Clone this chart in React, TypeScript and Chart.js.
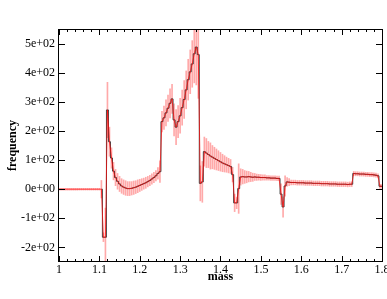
import React, { useEffect, useRef } from 'react';
import { Chart, registerables } from 'chart.js';

Chart.register(...registerables);

const massValues = [
  1.000, 1.005, 1.010, 1.015, 1.020, 1.025, 1.030, 1.035, 1.040, 1.045,
  1.050, 1.055, 1.060, 1.065, 1.070, 1.075, 1.080, 1.085, 1.090, 1.095,
  1.100, 1.105, 1.110, 1.115, 1.120, 1.125, 1.130, 1.135, 1.140, 1.145,
  1.150, 1.155, 1.160, 1.165, 1.170, 1.175, 1.180, 1.185, 1.190, 1.195,
  1.200, 1.205, 1.210, 1.215, 1.220, 1.225, 1.230, 1.235, 1.240, 1.245,
  1.250, 1.255, 1.260, 1.265, 1.270, 1.275, 1.280, 1.285, 1.290, 1.295,
  1.300, 1.305, 1.310, 1.315, 1.320, 1.325, 1.330, 1.335, 1.340, 1.345,
  1.350, 1.355, 1.360, 1.365, 1.370, 1.375, 1.380, 1.385, 1.390, 1.395,
  1.400, 1.405, 1.410, 1.415, 1.420, 1.425, 1.430, 1.435, 1.440, 1.445,
  1.450, 1.455, 1.460, 1.465, 1.470, 1.475, 1.480, 1.485, 1.490, 1.495,
  1.500, 1.505, 1.510, 1.515, 1.520, 1.525, 1.530, 1.535, 1.540, 1.545,
  1.550, 1.555, 1.560, 1.565, 1.570, 1.575, 1.580, 1.585, 1.590, 1.595,
  1.600, 1.605, 1.610, 1.615, 1.620, 1.625, 1.630, 1.635, 1.640, 1.645,
  1.650, 1.655, 1.660, 1.665, 1.670, 1.675, 1.680, 1.685, 1.690, 1.695,
  1.700, 1.705, 1.710, 1.715, 1.720, 1.725, 1.730, 1.735, 1.740, 1.745,
  1.750, 1.755, 1.760, 1.765, 1.770, 1.775, 1.780, 1.785, 1.790, 1.795,
  1.800,
];

const frequencyValues = [
  0, 0, 0, 0, 0, 0, 0, 0, 0, 0,
  0, 0, 0, 0, 0, 0, 0, 0, 0, 0,
  0, 0, -165, -165, 272, 163, 107, 62, 40, 27,
  18, 11, 7, 4, 2, 2, 3, 5, 7, 10,
  13, 16, 19, 22, 26, 30, 35, 40, 46, 54,
  60, 232, 245, 262, 278, 295, 310, 238, 213, 232,
  252, 280, 308, 341, 376, 403, 430, 465, 488, 462,
  20, 25, 129, 124, 119, 114, 110, 106, 102, 98,
  94, 90, 87, 84, 81, 78, 50, -47, -47, 2,
  42, 43, 42, 42, 43, 42, 41, 42, 41, 41,
  40, 40, 40, 39, 39, 38, 38, 38, 37, 37,
  -17, -61, 11, 25, 24, 23, 23, 23, 22, 22,
  22, 22, 21, 21, 21, 21, 20, 20, 20, 20,
  19, 19, 19, 19, 18, 18, 18, 18, 17, 17,
  17, 17, 17, 16, 17, 17, 54, 53, 53, 52,
  52, 52, 51, 51, 50, 50, 49, 48, 46, 10,
  10,
];

const errorValues = [
  3, 3, 3, 3, 3, 3, 3, 3, 3, 3,
  3, 3, 3, 3, 3, 3, 3, 3, 3, 3,
  3, 30, 15, 100, 95, 50, 35, 30, 28, 27,
  26, 25, 25, 25, 24, 24, 23, 23, 22, 22,
  21, 20, 19, 19, 18, 18, 18, 18, 18, 20,
  37, 35, 40, 45, 45, 50, 50, 55, 60, 55,
  60, 60, 65, 65, 70, 75, 80, 100, 130, 150,
  60, 70, 50, 50, 45, 45, 40, 38, 36, 34,
  32, 30, 28, 26, 25, 24, 25, 30, 20, 85,
  28, 25, 22, 20, 18, 16, 14, 12, 11, 10,
  10, 9, 9, 8, 8, 8, 8, 8, 8, 8,
  35, 35, 35, 15, 12, 8, 8, 8, 8, 8,
  8, 8, 8, 8, 8, 8, 8, 8, 8, 8,
  8, 8, 8, 8, 8, 8, 8, 8, 8, 8,
  8, 8, 8, 8, 8, 8, 7, 7, 7, 7,
  7, 7, 7, 7, 7, 7, 7, 7, 7, 7,
  7,
];

// the black histogram starts at this mass (no black trace on the flat part)
const histogramStartMass = 1.105;

const xMajorTicks = [1, 1.1, 1.2, 1.3, 1.4, 1.5, 1.6, 1.7, 1.8];
const yMajorTicks = [-200, -100, 0, 100, 200, 300, 400, 500];

const FONT = 'Liberation Serif, Times New Roman, serif';

function fmtExp(v: number): string {
  if (Math.abs(v) < 1e-9) return '0e+00';
  const e = Math.floor(Math.log10(Math.abs(v)) + 1e-9);
  const m = Math.round(v / Math.pow(10, e));
  return `${m}e${e < 0 ? '-' : '+'}${String(Math.abs(e)).padStart(2, '0')}`;
}

const framePlugin = {
  id: 'frameTicks',
  afterDatasetsDraw(chart: any) {
    const { ctx, chartArea: a, scales } = chart;
    const xs = scales.x;
    const ys = scales.y;
    ctx.save();
    ctx.strokeStyle = '#000';
    ctx.lineWidth = 1;
    ctx.strokeRect(a.left - 0.5, a.top + 0.5, a.right - a.left + 1, a.bottom - a.top - 1);
    ctx.beginPath();
    for (let i = 0; i <= 40; i++) {
      const v = 1 + i * 0.02;
      const major = i % 5 === 0;
      const len = major ? 6 : 3;
      const px = Math.round(xs.getPixelForValue(v)) + 0.5;
      ctx.moveTo(px, a.bottom);
      ctx.lineTo(px, a.bottom - len);
      ctx.moveTo(px, a.top);
      ctx.lineTo(px, a.top + len);
    }
    for (const v of yMajorTicks) {
      const py = Math.round(ys.getPixelForValue(v)) + 0.5;
      ctx.moveTo(a.left, py);
      ctx.lineTo(a.left + 6, py);
      ctx.moveTo(a.right, py);
      ctx.lineTo(a.right - 6, py);
    }
    ctx.stroke();
    ctx.restore();
  },
};

export default function App() {
  const canvasRef = useRef<HTMLCanvasElement | null>(null);

  useEffect(() => {
    const canvas = canvasRef.current;
    if (!canvas) return;
    const points = massValues.map((m, i) => ({ x: m, y: frequencyValues[i] }));
    const histPoints = points.filter((p) => p.x >= histogramStartMass - 1e-9);
    const bars = massValues.map((m, i) => ({
      x: m,
      y: [frequencyValues[i] - errorValues[i], frequencyValues[i] + errorValues[i]],
    }));

    const chart = new Chart(canvas, {
      type: 'line',
      data: {
        datasets: [
          {
            type: 'line',
            data: points,
            borderColor: 'rgba(255,0,0,0.7)',
            borderWidth: 1,
            pointRadius: 0,
            order: 1,
          } as any,
          {
            type: 'line',
            data: histPoints,
            borderColor: 'rgba(40,40,40,0.85)',
            borderWidth: 1,
            pointRadius: 0,
            stepped: 'middle',
            order: 2,
          } as any,
          {
            type: 'bar',
            data: bars,
            backgroundColor: 'rgba(255,40,40,0.4)',
            borderWidth: 0,
            barThickness: 1,
            order: 3,
          } as any,
        ],
      },
      options: {
        animation: false,
        responsive: false,
        devicePixelRatio: 1,
        layout: { padding: { top: 29, right: 5, left: 0, bottom: 0 } },
        plugins: { legend: { display: false }, tooltip: { enabled: false } },
        scales: {
          x: {
            type: 'linear',
            min: 1,
            max: 1.8,
            offset: false,
            grid: { display: false, drawTicks: false },
            border: { display: false },
            afterBuildTicks: (s: any) => {
              s.ticks = xMajorTicks.map((v) => ({ value: v }));
            },
            ticks: {
              autoSkip: false,
              maxRotation: 0,
              padding: 1,
              color: '#000',
              font: { family: FONT, size: 12 },
              callback: (v: any) => String(Math.round(Number(v) * 10) / 10),
            },
            title: {
              display: true,
              text: 'mass',
              color: '#000',
              font: { family: FONT, size: 12, weight: 'bold' },
              padding: { top: 0, bottom: 15 },
            },
            afterFit: (s: any) => {
              s.height = 37;
              s.paddingLeft = 0;
              s.paddingRight = 0;
            },
          },
          y: {
            type: 'linear',
            min: -250,
            max: 550,
            grid: { display: false, drawTicks: false },
            border: { display: false },
            afterBuildTicks: (s: any) => {
              s.ticks = yMajorTicks.map((v) => ({ value: v }));
            },
            ticks: {
              autoSkip: false,
              padding: 4,
              color: '#000',
              font: { family: FONT, size: 12 },
              callback: (v: any) => fmtExp(Number(v)),
            },
            title: {
              display: true,
              text: 'frequency',
              color: '#000',
              font: { family: FONT, size: 12, weight: 'bold' },
              padding: { top: 5.5, bottom: 0 },
            },
            afterFit: (s: any) => {
              s.width = 59;
              s.paddingTop = 0;
              s.paddingBottom = 0;
            },
          },
        },
      } as any,
      plugins: [framePlugin],
    });
    return () => chart.destroy();
  }, []);

  return (
    <div style={{ position: 'fixed', left: 0, top: 0, width: 387, height: 299, background: '#fff' }}>
      <canvas ref={canvasRef} width={387} height={299} style={{ display: 'block' }} />
    </div>
  );
}
